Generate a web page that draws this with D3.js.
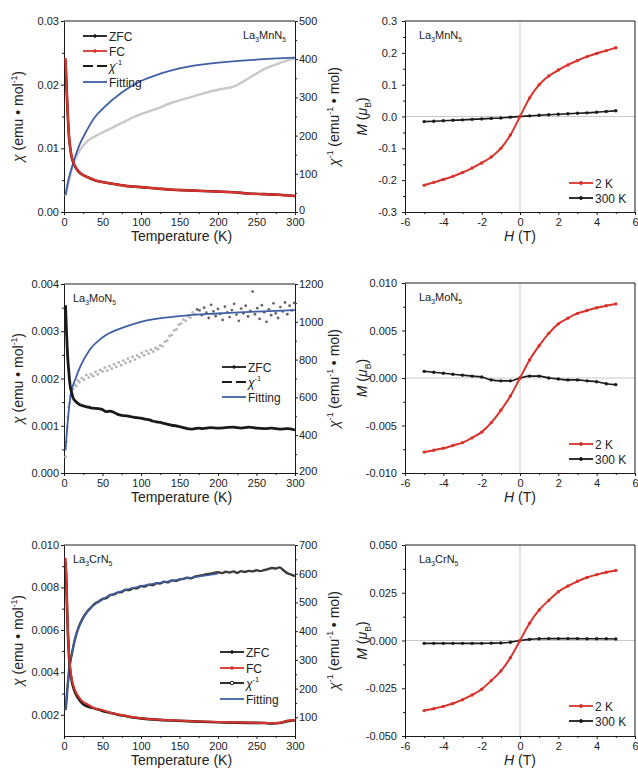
<!DOCTYPE html>
<html>
<head>
<meta charset="utf-8">
<script src="https://cdn.jsdelivr.net/npm/d3@7"></script>
<style>
body { margin: 0; background: #fff; }
</style>
</head>
<body>
<script>
// ---------- data ----------
// La3MnN5, chi vs T
var mnT = [2,3,4,5,6,8,10,12,15,20,25,30,40,50,60,70,80,90,100,120,140,160,180,200,220,240,260,280,300];
var mnFC = [0.0242,0.021,0.018,0.0152,0.0128,0.0102,0.0087,0.0079,0.0071,0.0063,0.0058,0.0055,0.0050,0.0047,0.0045,0.0043,0.0041,0.0040,0.0039,0.0037,0.0035,0.0034,0.0033,0.0032,0.0031,0.0029,0.0028,0.0027,0.0025];
var mnZFC = [0.0238,0.0205,0.0176,0.0150,0.0126,0.0101,0.0086,0.0078,0.0070,0.0062,0.0058,0.0055,0.0050,0.0047,0.0045,0.0043,0.0041,0.0040,0.0039,0.0037,0.0035,0.0034,0.0033,0.0032,0.0031,0.0029,0.0028,0.0027,0.0025];
var mnInv = [42,50,58,66,75,95,112,125,140,160,174,185,198,208,218,228,238,248,256,270,286,298,310,320,328,350,374,390,402];
var mnFitT = [2,5,10,15,20,30,40,50,75,100,125,150,200,250,300];
var mnFit = [45,78,115,148,175,215,248,270,313,343,362,376,391,399,404];

// La3MnN5, M vs H
var hField = [-5,-4.5,-4,-3.5,-3,-2.5,-2,-1.5,-1,-0.5,0,0.5,1,1.5,2,2.5,3,3.5,4,4.5,5];
var mn2K = [-0.216,-0.207,-0.198,-0.188,-0.176,-0.162,-0.146,-0.127,-0.100,-0.058,0,0.058,0.100,0.127,0.146,0.162,0.176,0.188,0.198,0.207,0.216];
var mn300K = [-0.016,-0.015,-0.0135,-0.012,-0.0105,-0.009,-0.0075,-0.006,-0.0045,-0.002,0,0.002,0.004,0.0055,0.007,0.0085,0.01,0.0115,0.0135,0.0155,0.018];

// La3MoN5, chi vs T
var moT = [2,3,4,5,6,7,8,10,12,15,20,25,30,35,40,45,50,55,60,65,70,75,80,85,90,95,100,105,110,115,120,125,130,135,140,145,150,155,160,165,170,175,180,190,200,210,220,230,240,250,260,270,280,290,300];
var moZFC = [0.00355,0.0031,0.0027,0.0024,0.0022,0.0020,0.00185,0.0017,0.00158,0.00152,0.00145,0.00142,0.00140,0.00138,0.00137,0.00136,0.00134,0.00130,0.00131,0.00128,0.00124,0.00122,0.00121,0.00120,0.00118,0.00117,0.00116,0.00114,0.00113,0.00110,0.00108,0.00107,0.00105,0.00103,0.00101,0.00100,0.00098,0.00096,0.00094,0.00093,0.00094,0.00095,0.00094,0.00096,0.00095,0.00096,0.00097,0.00095,0.00097,0.00095,0.00094,0.00095,0.00093,0.00094,0.00091];
var moInvT = [2,3,4,5,6,7,8,9,10,12,14,16,18,20,23,26,29,32,35,38,41,44,47,50,53,56,59,62,65,68,71,74,77,80,83,86,89,92,95,98,101,104,107,110,113,116,119,122,125,128,131,134,137,140,143,146,149,152,155,158,161,164,167,170,173,
  176,179,182,185,188,191,194,197,200,203,206,209,212,215,218,221,224,227,230,233,236,239,242,245,248,251,254,257,260,263,266,269,272,275,278,281,284,287,290,293,296,299];
var moInv = [285,365,440,495,548,570,605,615,640,645,668,660,690,680,702,694,718,705,722,712,735,722,745,738,758,742,765,752,775,762,785,770,795,782,805,790,815,800,822,812,835,822,845,832,852,842,862,855,875,870,895,900,925,930,955,960,985,990,1012,1005,1030,1022,1050,1040,1065,
  1060,1035,1075,1048,1020,1090,1055,1030,1068,1042,1010,1080,1050,1025,1062,1095,1038,1005,1070,1045,1085,1028,1058,1160,1040,1072,1015,1088,1050,1000,1066,1035,1098,1045,1020,1078,1055,1102,1040,1085,1060,1100];
var moFitT = [2,5,9,15,22,33,50,80,100,150,200,250,300];
var moFit = [320,480,620,700,771,850,917,974,1000,1030,1044,1054,1062];

// La3MoN5, M vs H
var mo2K = [-0.0078,-0.0076,-0.0074,-0.0071,-0.0068,-0.0063,-0.0057,-0.0047,-0.0034,-0.0019,0,0.0019,0.0034,0.0047,0.0057,0.0063,0.0068,0.0071,0.0074,0.0076,0.0078];
var mo300K = [0.0007,0.0006,0.0005,0.0004,0.0003,0.0002,0.0001,-0.0002,-0.0003,-0.0003,0,0.0002,0.0002,0,-0.0001,-0.0002,-0.0002,-0.0003,-0.0004,-0.0006,-0.0007];

// La3CrN5, chi vs T
var crT = [2,3,4,5,6,7,8,10,12,15,20,25,30,40,50,60,70,80,90,100,120,140,160,180,200,220,240,260,270,280,290,300];
var crFC = [0.0094,0.0085,0.0072,0.0060,0.0052,0.0046,0.0042,0.0037,0.0034,0.0031,0.0028,0.0026,0.0025,0.0023,0.00222,0.0021,0.00202,0.00195,0.00188,0.00184,0.00178,0.00174,0.00171,0.00168,0.00166,0.00164,0.00163,0.00162,0.00160,0.00162,0.00172,0.00175];
var crZFC = [0.0092,0.0083,0.0070,0.0059,0.0051,0.0045,0.0041,0.0036,0.0033,0.0030,0.0027,0.0025,0.0024,0.0023,0.00218,0.0021,0.00200,0.00194,0.00187,0.00183,0.00177,0.00173,0.00170,0.00167,0.00165,0.00163,0.00162,0.00161,0.00159,0.00161,0.00170,0.00174];
var crInvT = [2,3,4,5,6,7,8,10,12,15,20,25,30,35,40,45,50,55,60,65,70,75,80,85,90,95,100,105,110,115,120,125,130,135,140,145,150,155,160,165,170,175,180,185,190,195,200,205,210,215,220,225,230,235,240,245,250,255,260,265,270,275,280,285,290,295,300];
var crInv = [125,150,185,218,248,272,292,318,345,380,420,448,468,482,496,503,512,515,526,528,535,536,544,543,550,549,557,555,562,560,567,566,572,570,577,575,580,582,586,584,590,592,595,598,600,603,605,602,607,604,608,603,609,606,610,608,612,609,613,616,620,618,622,612,602,597,592];
var crFitT = [2,5,10,15,25,50,75,100,150,200];
var crFit = [126,220,320,380,445,510,540,557,580,600];

// La3CrN5, M vs H
var cr2K = [-0.0367,-0.0357,-0.0345,-0.033,-0.031,-0.0285,-0.0255,-0.021,-0.016,-0.009,0,0.009,0.016,0.021,0.0255,0.0285,0.031,0.033,0.0345,0.0357,0.0367];
var cr300K = [-0.0015,-0.0015,-0.0015,-0.0015,-0.0015,-0.0015,-0.0015,-0.0014,-0.0013,-0.0009,0,0.0006,0.0009,0.001,0.001,0.001,0.001,0.0009,0.0009,0.0009,0.0008];

// tick values
var tTicks = [0,50,100,150,200,250,300];
var tMinor = [25,75,125,175,225,275];
var hTicks = [-6,-4,-2,0,2,4,6];
var hMinor = [-5,-3,-1,1,3,5];

// ---------- styles ----------
var FONT = "Arial, 'Liberation Sans', sans-serif";
var RED = "#d8332c", BLUE = "#3f5fa6", INK = "#1a1a1a", TXT = "#222";

var svg = d3.select("body").append("svg")
    .attr("width", 638).attr("height", 769)
    .style("font-family", FONT);

function zip(xs, ys) { return xs.map(function (x, i) { return [x, ys[i]]; }); }
function fmt(spec) { var f = d3.format(spec); return function (d) { return f(d).replace("\u2212", "-"); }; }

//text with italic / sub / superscript parts
function rich(g, x, y, parts, size, anchor, rotate) {
    var t = g.append("text").attr("x", x).attr("y", y)
        .attr("font-size", size).attr("fill", TXT)
        .attr("text-anchor", anchor || "start");
    if (rotate) t.attr("transform", "rotate(-90," + x + "," + y + ")");
    var shift = 0;
    parts.forEach(function (p) {
        var s = t.append("tspan").text(p[0]);
        var want = p[1] == "sup" ? -0.42 * size : (p[1] == "sub" ? 0.3 * size : 0);
        if (want != shift) { s.attr("dy", want - shift); shift = want; }
        if (p[1] == "sup" || p[1] == "sub") s.attr("font-size", size * 0.62);
        if (p[1] == "i") s.attr("font-style", "italic");
    });
    return t;
}

//major + minor ticks on one side
function axis(g, orient, scale, pos, majors, minors, format, pad) {
    var make = {left: d3.axisLeft, right: d3.axisRight, bottom: d3.axisBottom}[orient];
    var tr = orient == "bottom" ? "translate(0," + pos + ")" : "translate(" + pos + ",0)";
    var a = g.append("g").attr("transform", tr)
        .call(make(scale).tickValues(majors).tickSize(3).tickSizeOuter(0).tickPadding(pad).tickFormat(format));
    a.attr("font-size", 11).attr("font-family", FONT);
    a.select(".domain").attr("stroke", INK);
    a.selectAll(".tick line").attr("stroke", INK);
    a.selectAll(".tick text").attr("fill", TXT);
    var m = g.append("g").attr("transform", tr)
        .call(make(scale).tickValues(minors).tickSize(2).tickSizeOuter(0).tickFormat(""));
    m.select(".domain").remove();
    m.selectAll("line").attr("stroke", INK);
    return a;
}

function legend(g, x, rows) {
    rows.forEach(function (r) {
        var line = g.append("line").attr("x1", x).attr("x2", x + 24)
            .attr("y1", r.y).attr("y2", r.y)
            .attr("stroke", r.color).attr("stroke-width", 1.8);
        if (r.dash) line.attr("stroke-dasharray", "10,4");
        if (r.dot) g.append("circle").attr("cx", x + 12).attr("cy", r.y).attr("r", r.dot)
            .attr("fill", r.open ? "#fff" : r.color).attr("stroke", r.color);
        rich(g, x + 26, r.y + 4.5, r.label, 12);
    });
}

function drawLine(g, data, x, y, color, width, dots) {
    g.append("path").datum(data)
        .attr("d", d3.line().x(function (d) { return x(d[0]); }).y(function (d) { return y(d[1]); }).curve(d3.curveMonotoneX))
        .attr("fill", "none").attr("stroke", color).attr("stroke-width", width);
    if (dots) g.selectAll(null).data(data).enter().append("circle")
        .attr("cx", function (d) { return x(d[0]); }).attr("cy", function (d) { return y(d[1]); })
        .attr("r", dots).attr("fill", color);
}

//top line (+ right line if no right axis)
function frame(g, L, R, T, B, rightLine) {
    g.append("line").attr("x1", L).attr("x2", R).attr("y1", T).attr("y2", T).attr("stroke", INK);
    if (rightLine) g.append("line").attr("x1", R).attr("x2", R).attr("y1", T).attr("y2", B).attr("stroke", INK);
}

var chiTitle = [["\u03c7", "i"], [" (emu \u2022 mol", ""], ["-1", "sup"], [")", ""]];
var invTitle = [["\u03c7", "i"], ["-1", "sup"], [" (emu", ""], ["-1", "sup"], [" \u2022 mol)", ""]];
var mTitle = [["M", "i"], [" (", ""], ["\u03bc", "i"], ["B", "sub"], [")", ""]];
var invLabel = [["\u03c7", "i"], ["-1", "sup"]];

//chi vs T panel
function chiPanel(p) {
    var g = svg.append("g");
    var L = 64, R = 295;
    var x = d3.scaleLinear().domain([0, 300]).range([L, R]);
    var y = d3.scaleLinear().domain(p.yDom).range([p.B, p.T]);
    var y2 = d3.scaleLinear().domain(p.y2Dom).range([p.B, p.T]);

    frame(g, L, R, p.T, p.B, false);
    axis(g, "left", y, L, p.yTicks, p.yMinor, fmt(p.yFmt), 2);
    var ra = axis(g, "right", y2, R, p.y2Ticks, p.y2Minor, fmt("d"), 1);
    //lowest right label sits a bit higher, clear of the "300" below it
    ra.selectAll(".tick text").filter(function (d) { return d == p.y2Dom[0]; }).attr("dy", "0.1em");
    axis(g, "bottom", x, p.B, tTicks, tMinor, fmt("d"), 3);

    p.draw(g, x, y, y2);

    rich(g, (L + R) / 2 + 2, p.B + 29, [["Temperature (K)", ""]], 14, "middle");
    rich(g, 23, (p.T + p.B) / 2, chiTitle, 14, "middle", true);
    rich(g, 339, (p.T + p.B) / 2, invTitle, 14, "middle", true);
    rich(g, p.fx, p.T + 18, p.formula, 11);
    legend(g, p.lx, p.legend);
}

//M vs H panel
function mhPanel(p) {
    var g = svg.append("g");
    var L = 405, R = 635;
    var x = d3.scaleLinear().domain([-6, 6]).range([L, R]);
    var y = d3.scaleLinear().domain(p.yDom).range([p.B, p.T]);

    g.append("line").attr("x1", L).attr("x2", R).attr("y1", y(0)).attr("y2", y(0)).attr("stroke", "#bbb").attr("stroke-width", 0.8);
    g.append("line").attr("x1", x(0)).attr("x2", x(0)).attr("y1", p.T).attr("y2", p.B).attr("stroke", "#bbb").attr("stroke-width", 0.8);

    frame(g, L, R, p.T, p.B, true);
    axis(g, "left", y, L, p.yTicks, p.yMinor, fmt(p.yFmt), 5);
    axis(g, "bottom", x, p.B, hTicks, hMinor, fmt("d"), 3);

    drawLine(g, zip(hField, p.k300), x, y, INK, 1.6, 1.7);
    drawLine(g, zip(hField, p.k2), x, y, RED, 2, 1.7);

    rich(g, (L + R) / 2, p.B + 29, [["H", "i"], [" (T)", ""]], 14, "middle");
    rich(g, 367, (p.T + p.B) / 2, mTitle, 14, "middle", true);
    rich(g, 419, p.T + 18, p.formula, 11);
    legend(g, 569, [
        {y: p.ly, label: [["2 K", ""]], color: RED, dot: 1.5},
        {y: p.ly + 15, label: [["300 K", ""]], color: INK, dot: 1.5}
    ]);
}

// ---------- panels ----------
chiPanel({
    T: 21, B: 212, yDom: [0, 0.03], yTicks: [0, 0.01, 0.02, 0.03], yMinor: [0.005, 0.015, 0.025], yFmt: ".2f",
    y2Dom: [0, 500], y2Ticks: [0, 100, 200, 300, 400, 500], y2Minor: [50, 150, 250, 350, 450],
    fx: 243, formula: [["La", ""], ["3", "sub"], ["MnN", ""], ["5", "sub"]],
    lx: 83,
    legend: [
        {y: 36, label: [["ZFC", ""]], color: INK, dot: 1.3},
        {y: 51, label: [["FC", ""]], color: RED, dot: 1.3},
        {y: 66, label: invLabel, color: INK, dash: true},
        {y: 82, label: [["Fitting", ""]], color: BLUE}
    ],
    draw: function (g, x, y, y2) {
        drawLine(g, zip(mnT, mnInv), x, y2, "#c8c8c8", 2.4);
        drawLine(g, zip(mnFitT, mnFit), x, y2, BLUE, 1.8);
        drawLine(g, zip(mnT, mnZFC), x, y, "#5a1010", 2.6);
        drawLine(g, zip(mnT, mnFC), x, y, RED, 2.2);
    }
});

mhPanel({
    T: 21, B: 212, yDom: [-0.3, 0.3], yTicks: [-0.3, -0.2, -0.1, 0, 0.1, 0.2, 0.3],
    yMinor: [-0.25, -0.15, -0.05, 0.05, 0.15, 0.25], yFmt: ".1f",
    k2: mn2K, k300: mn300K, ly: 183,
    formula: [["La", ""], ["3", "sub"], ["MnN", ""], ["5", "sub"]]
});

chiPanel({
    T: 284, B: 473, yDom: [0, 0.004], yTicks: [0, 0.001, 0.002, 0.003, 0.004], yMinor: [0.0005, 0.0015, 0.0025, 0.0035], yFmt: ".3f",
    y2Dom: [200, 1200], y2Ticks: [200, 400, 600, 800, 1000, 1200], y2Minor: [300, 500, 700, 900, 1100],
    fx: 73, formula: [["La", ""], ["3", "sub"], ["MoN", ""], ["5", "sub"]],
    lx: 222,
    legend: [
        {y: 367, label: [["ZFC", ""]], color: INK, dot: 1.3},
        {y: 382, label: invLabel, color: INK, dash: true},
        {y: 397, label: [["Fitting", ""]], color: BLUE}
    ],
    draw: function (g, x, y, y2) {
        g.selectAll(null).data(zip(moInvT, moInv)).enter().append("circle")
            .attr("cx", function (d) { return x(d[0]); })
            .attr("cy", function (d) { return y2(d[1]); })
            .attr("r", 1.4)
            .attr("fill", function (d) { return d[0] < 172 ? "#b4b4b4" : "#666"; });
        drawLine(g, zip(moFitT, moFit), x, y2, BLUE, 1.8);
        drawLine(g, zip(moT, moZFC), x, y, INK, 2.8);
    }
});

mhPanel({
    T: 283, B: 473, yDom: [-0.01, 0.01], yTicks: [-0.01, -0.005, 0, 0.005, 0.01],
    yMinor: [-0.0075, -0.0025, 0.0025, 0.0075], yFmt: ".3f",
    k2: mo2K, k300: mo300K, ly: 444,
    formula: [["La", ""], ["3", "sub"], ["MoN", ""], ["5", "sub"]]
});

chiPanel({
    T: 545, B: 736, yDom: [0.001, 0.01], yTicks: [0.002, 0.004, 0.006, 0.008, 0.01], yMinor: [0.003, 0.005, 0.007, 0.009], yFmt: ".3f",
    y2Dom: [35, 700], y2Ticks: [100, 200, 300, 400, 500, 600, 700], y2Minor: [150, 250, 350, 450, 550, 650],
    fx: 73, formula: [["La", ""], ["3", "sub"], ["CrN", ""], ["5", "sub"]],
    lx: 220,
    legend: [
        {y: 652, label: [["ZFC", ""]], color: INK, dot: 1.3},
        {y: 668, label: [["FC", ""]], color: RED, dot: 1.3},
        {y: 683, label: invLabel, color: INK, dot: 1.8, open: true},
        {y: 699, label: [["Fitting", ""]], color: BLUE}
    ],
    draw: function (g, x, y, y2) {
        drawLine(g, zip(crInvT, crInv), x, y2, "#3a3a3a", 2.4);
        drawLine(g, zip(crFitT, crFit), x, y2, BLUE, 1.6);
        drawLine(g, zip(crT, crZFC), x, y, INK, 2.6);
        drawLine(g, zip(crT, crFC), x, y, RED, 2.1);
    }
});

mhPanel({
    T: 545, B: 736, yDom: [-0.05, 0.05], yTicks: [-0.05, -0.025, 0, 0.025, 0.05],
    yMinor: [-0.0375, -0.0125, 0.0125, 0.0375], yFmt: ".3f",
    k2: cr2K, k300: cr300K, ly: 706,
    formula: [["La", ""], ["3", "sub"], ["CrN", ""], ["5", "sub"]]
});
</script>
</body>
</html>
